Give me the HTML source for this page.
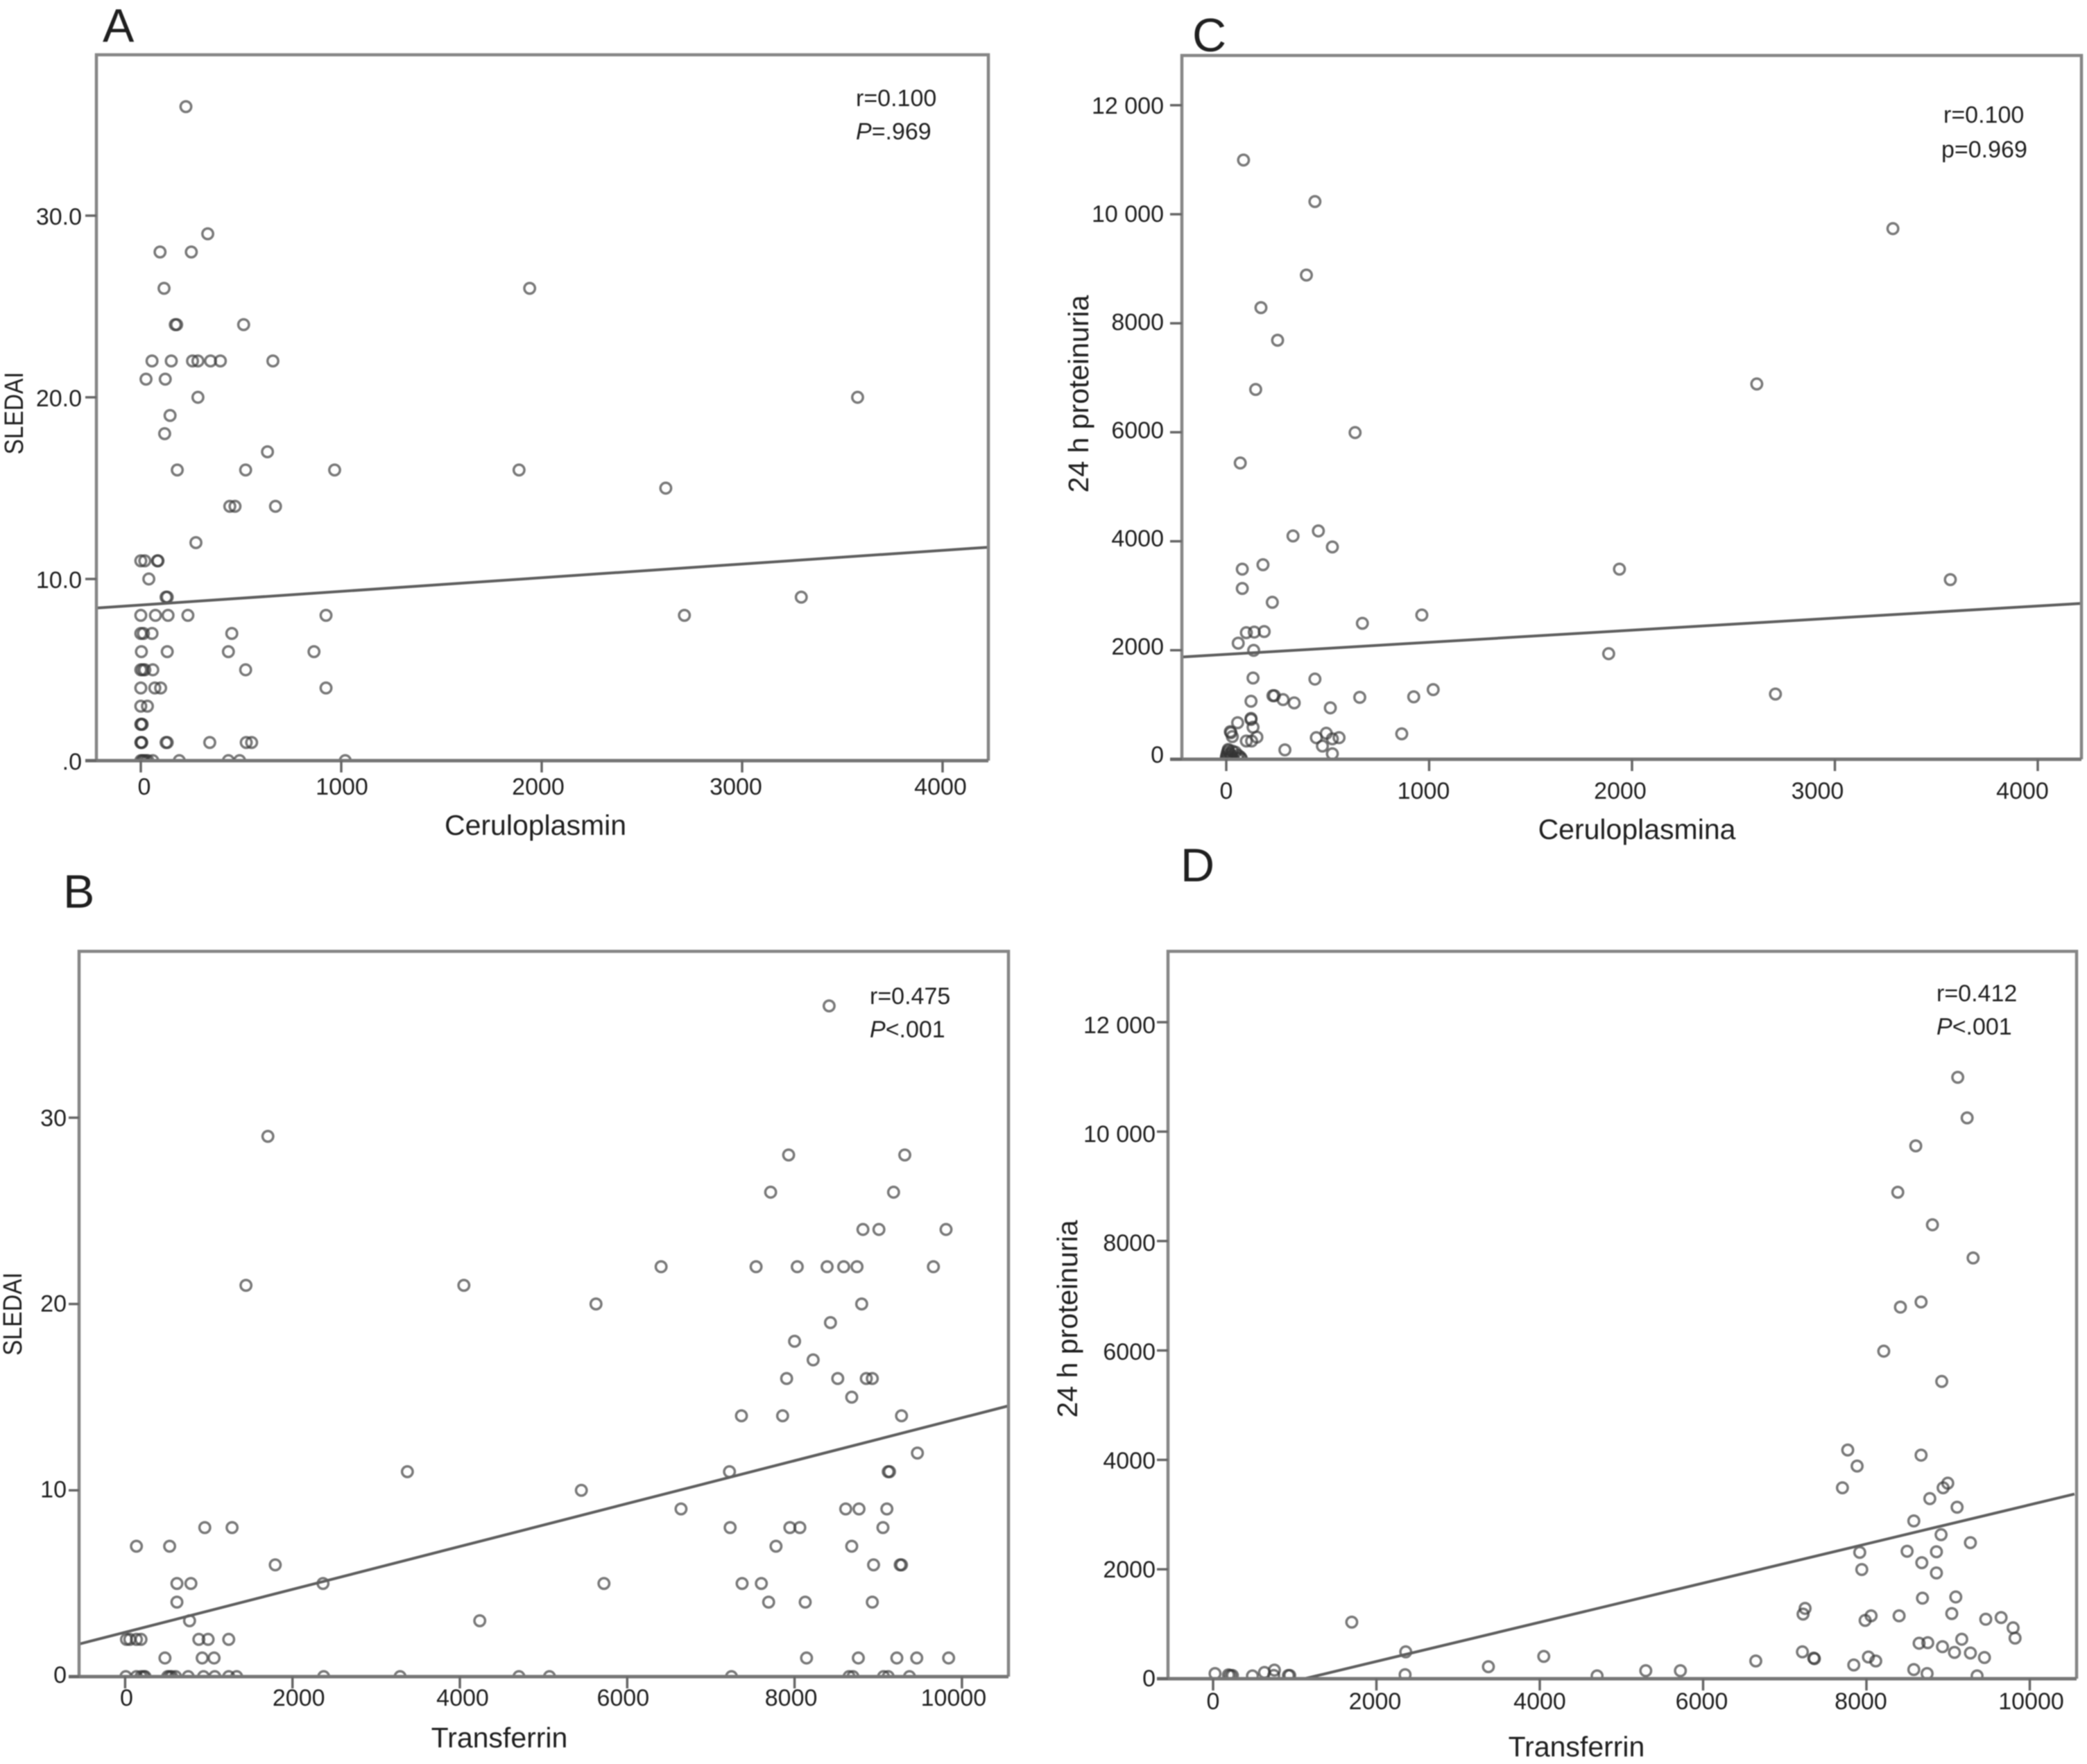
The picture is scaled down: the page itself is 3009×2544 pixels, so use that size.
<!DOCTYPE html>
<html lang="en">
<head>
<meta charset="utf-8">
<title>Scatter plots: SLEDAI and 24 h proteinuria vs ceruloplasmin and transferrin</title>
<style>
html,body{margin:0;padding:0;background:#fff;width:3009px;height:2544px;overflow:hidden}
svg{display:block;filter:blur(0.7px)}
text{font-family:"Liberation Sans",sans-serif;fill:#1f1f1f}
.tick{font-size:34px}
.title{font-size:41px}
.sled{font-size:38px}
.note{font-size:34px}
.letter{font-size:68px}
</style>
</head>
<body>
<svg id="figure" width="3009" height="2544" viewBox="0 0 3009 2544" xmlns="http://www.w3.org/2000/svg">
  <rect x="0" y="0" width="3009" height="2544" fill="#fff"/>
  <g id="panel-a"></g>
  <g id="panel-b"></g>
  <g id="panel-c"></g>
  <g id="panel-d"></g>

  <text class="letter" x="148" y="60">A</text>
  <text class="letter" x="91" y="1309">B</text>
  <text class="letter" x="1719" y="74">C</text>
  <text class="letter" x="1702" y="1271">D</text>

  <text class="title" x="772" y="1204" text-anchor="middle">Ceruloplasmin</text>
  <text class="title" x="2360" y="1210" text-anchor="middle">Ceruloplasmina</text>
  <text class="title" x="720" y="2520" text-anchor="middle">Transferrin</text>
  <text class="title" x="2273" y="2533" text-anchor="middle">Transferrin</text>

  <text class="sled" text-anchor="middle" textLength="119" lengthAdjust="spacingAndGlyphs" transform="translate(33 596) rotate(-90)">SLEDAI</text>
  <text class="sled" text-anchor="middle" textLength="120" lengthAdjust="spacingAndGlyphs" transform="translate(31 1895) rotate(-90)">SLEDAI</text>
  <text class="title" text-anchor="middle" transform="translate(1569 568) rotate(-90)">24 h proteinuria</text>
  <text class="title" text-anchor="middle" transform="translate(1553 1902) rotate(-90)">24 h proteinuria</text>

  <text class="note" x="1234" y="153">r=0.100</text>
  <text class="note" x="1234" y="201"><tspan font-style="italic">P</tspan>=.969</text>
  <text class="note" x="2802" y="177">r=0.100</text>
  <text class="note" x="2799" y="227">p=0.969</text>
  <text class="note" x="1254" y="1448">r=0.475</text>
  <text class="note" x="1254" y="1496"><tspan font-style="italic">P</tspan>&lt;.001</text>
  <text class="note" x="2792" y="1444">r=0.412</text>
  <text class="note" x="2792" y="1492"><tspan font-style="italic">P</tspan>&lt;.001</text>
</svg>

<script>
// ---------- Panel A: SLEDAI vs ceruloplasmin ----------
const aXTicks = [0, 1000, 2000, 3000, 4000];
const aYTicks = [0, 10, 20, 30];
const aYTickLabels = [".0", "10.0", "20.0", "30.0"];
const aLineX = [-221, 4232];
const aLineY = [8.4, 11.75];
const aX = [225, 334, 96, 252, 116, 1940, 172, 179, 513, 56, 152, 258, 285, 348, 397, 659, 26, 122, 285, 3576, 146, 119, 632, 182, 523, 967, 1887, 2619, 444, 470, 672, 275, 0, 20, 83, 86, 40, 126, 132, 3295, 0, 73, 136, 235, 924, 2712, 0, 13, 56, 454, 3, 132, 437, 864, 0, 10, 20, 60, 523, 0, 70, 99, 924, 0, 33, 0, 3, 7, 0, 3, 5, 126, 132, 344, 526, 553, 0, 8, 15, 25, 35, 60, 192, 437, 493, 1020];
const aY = [36, 29, 28, 28, 26, 26, 24, 24, 24, 22, 22, 22, 22, 22, 22, 22, 21, 21, 20, 20, 19, 18, 17, 16, 16, 16, 16, 15, 14, 14, 14, 12, 11, 11, 11, 11, 10, 9, 9, 9, 8, 8, 8, 8, 8, 8, 7, 7, 7, 7, 6, 6, 6, 6, 5, 5, 5, 5, 5, 4, 4, 4, 4, 3, 3, 2, 2, 2, 1, 1, 1, 1, 1, 1, 1, 1, 0, 0, 0, 0, 0, 0, 0, 0, 0, 0];

// ---------- Panel B: SLEDAI vs transferrin ----------
const bXTicks = [0, 2000, 4000, 6000, 8000, 10000];
const bYTicks = [0, 10, 20, 30];
const bYTickLabels = ["0", "10", "20", "30"];
const bLineX = [-548, 10571];
const bLineY = [1.75, 14.55];
const bX = [8413, 1706, 7929, 9317, 7714, 9183, 8817, 9008, 9810, 6405, 7540, 8032, 8389, 8587, 8746, 9659, 1444, 4048, 5627, 8802, 8429, 8000, 8222, 7905, 8516, 8857, 8929, 8683, 7365, 7857, 9278, 9468, 3373, 7222, 9119, 9135, 5452, 6643, 8611, 8770, 9103, 952, 1278, 7230, 7944, 8063, 9056, 135, 532, 7778, 8683, 1794, 8944, 9262, 9278, 619, 786, 2365, 5722, 7373, 7603, 619, 7690, 8127, 8929, 770, 4238, 16, 56, 135, 190, 881, 992, 1238, 476, 921, 1063, 8143, 8762, 9222, 9460, 9841, 8, 135, 190, 222, 238, 508, 532, 556, 603, 754, 937, 1071, 1238, 1333, 2373, 3286, 4706, 5071, 7246, 8651, 8698, 9063, 9119, 9373];
const bY = [36, 29, 28, 28, 26, 26, 24, 24, 24, 22, 22, 22, 22, 22, 22, 22, 21, 21, 20, 20, 19, 18, 17, 16, 16, 16, 16, 15, 14, 14, 14, 12, 11, 11, 11, 11, 10, 9, 9, 9, 9, 8, 8, 8, 8, 8, 8, 7, 7, 7, 7, 6, 6, 6, 6, 5, 5, 5, 5, 5, 5, 4, 4, 4, 4, 3, 3, 2, 2, 2, 2, 2, 2, 2, 1, 1, 1, 1, 1, 1, 1, 1, 0, 0, 0, 0, 0, 0, 0, 0, 0, 0, 0, 0, 0, 0, 0, 0, 0, 0, 0, 0, 0, 0, 0, 0];

// ---------- Panel C: 24 h proteinuria vs ceruloplasmin ----------
const cXTicks = [0, 1000, 2000, 3000, 4000];
const cYTicks = [0, 2000, 4000, 6000, 8000, 10000, 12000];
const cYTickLabels = ["0", "2000", "4000", "6000", "8000", "10 000", "12 000"];
const cLineX = [-219, 4215];
const cLineY = [1876, 2860];
const cX = [85, 437, 3286, 395, 171, 253, 145, 2615, 635, 69, 454, 329, 523, 181, 79, 1938, 3569, 79, 227, 964, 671, 99, 138, 187, 59, 135, 1885, 132, 437, 2707, 1020, 230, 237, 280, 335, 122, 658, 924, 513, 122, 122, 56, 132, 20, 23, 30, 865, 493, 444, 523, 556, 151, 99, 125, 474, 289, 523, 0, 0, 3, 5, 10, 10, 15, 20, 25, 30, 35, 45, 55, 60, 70, 75];
const cY = [10995, 10233, 9736, 8884, 8286, 7688, 6785, 6886, 5994, 5436, 4189, 4097, 3895, 3570, 3489, 3489, 3296, 3134, 2880, 2647, 2495, 2323, 2333, 2343, 2130, 1998, 1937, 1491, 1471, 1197, 1278, 1166, 1166, 1095, 1034, 1065, 1136, 1146, 943, 750, 730, 670, 588, 507, 487, 416, 467, 477, 396, 375, 396, 406, 335, 335, 243, 172, 101, 0, 40, 80, 120, 160, 180, 30, 100, 60, 150, 0, 130, 20, 70, 40, 10];

// ---------- Panel D: 24 h proteinuria vs transferrin ----------
const dXTicks = [0, 2000, 4000, 6000, 8000, 10000];
const dYTicks = [0, 2000, 4000, 6000, 8000, 10000, 12000];
const dYTickLabels = ["0", "2000", "4000", "6000", "8000", "10 000", "12 000"];
const dLineX = [1118, 10547];
const dLineY = [0, 3375];
const dX = [9118, 9233, 8604, 8384, 8808, 9306, 8669, 8416, 8212, 8922, 7771, 8669, 7886, 7706, 8996, 8939, 8776, 9110, 8580, 8914, 9273, 7918, 8498, 8857, 8678, 7943, 8857, 8686, 9094, 7249, 7224, 9045, 8400, 8057, 7984, 9461, 9649, 9796, 9820, 9167, 8645, 8751, 8931, 9078, 9273, 9445, 7216, 7355, 7363, 8024, 8114, 7845, 8580, 8743, 9355, 6645, 5722, 5298, 4702, 4049, 3371, 2359, 2351, 1698, 24, 188, 212, 237, 482, 629, 751, 743, 922, 939];
const dY = [10993, 10251, 9739, 8892, 8297, 7691, 6886, 6792, 5987, 5434, 4180, 4086, 3887, 3490, 3574, 3490, 3292, 3135, 2884, 2633, 2487, 2309, 2330, 2320, 2121, 1996, 1933, 1473, 1494, 1285, 1181, 1191, 1149, 1149, 1066, 1087, 1118, 930, 742, 721, 648, 658, 585, 481, 470, 387, 491, 376, 366, 397, 324, 251, 167, 94, 52, 324, 146, 146, 52, 408, 219, 491, 73, 1034, 94, 70, 60, 60, 52, 115, 157, 60, 60, 60];

// ---------- Layout (pixels), separate from the data ----------
const layoutA = {name:'a', left:139, right:1425, top:79, bottom:1097, x0:203, kx:0.289, ky:26.2, tickLeft:123, xBase:1146, yRight:118, dy0:13, dyTop:13, xNudge:[5,1,-5,-9,-3]};
const layoutB = {name:'b', left:114, right:1454, top:1372, bottom:2418, x0:180.4, kx:0.12065, ky:26.87, tickLeft:99, xBase:2460, yRight:96, dy0:9, dyTop:12, xNudge:[2,9,4,-6,-5,-12]};
const layoutC = {name:'c', left:1704, right:3001, top:80, bottom:1095, x0:1768, kx:0.2925, ky:0.0786, tickLeft:1687, xBase:1152, yRight:1678, dy0:5, dyTop:12, xNudge:[0,-8,-17,-25,-22]};
const layoutD = {name:'d', left:1684, right:2994, top:1372, bottom:2421, x0:1749, kx:0.11775, ky:0.0789, tickLeft:1668, xBase:2465, yRight:1666, dy0:11, dyTop:16, xNudge:[0,-2,0,-2,-8,2]};

const NS = 'http://www.w3.org/2000/svg';
function make(tag, attrs) {
  const el = document.createElementNS(NS, tag);
  for (const k in attrs) el.setAttribute(k, attrs[k]);
  return el;
}

function drawPanel(L, xs, ys, lineX, lineY, xTicks, yTicks, yLabels) {
  const root = document.getElementById('panel-' + L.name);
  const sx = v => L.x0 + v * L.kx;
  const sy = v => L.bottom - v * L.ky;
  const maxY = yTicks[yTicks.length - 1];

  const clip = make('clipPath', {id: 'clip-' + L.name});
  clip.appendChild(make('rect', {x: L.left, y: L.top, width: L.right - L.left, height: L.bottom - L.top}));
  root.appendChild(clip);

  const marks = make('g', {'clip-path': 'url(#clip-' + L.name + ')'});
  
  
  root.appendChild(marks);

  xs.forEach((x, i) => {
    const ring = make('circle', {cx: sx(x), cy: sy(ys[i]), r: 7.7, fill: 'none', stroke: '#333', 'stroke-width': 3.5, 'stroke-opacity': 0.66});
    
    
    marks.appendChild(ring);
  });

  const fit = make('line', {x1: sx(lineX[0]), y1: sy(lineY[0]), x2: sx(lineX[1]), y2: sy(lineY[1]), stroke: '#5e5e5e', 'stroke-width': 4, 'clip-path': 'url(#clip-' + L.name + ')'});
  
  
  root.appendChild(fit);

  const frame = make('path', {d: 'M' + L.left + ' ' + L.bottom + 'V' + L.top + 'H' + L.right + 'V' + L.bottom, fill: 'none', stroke: '#868686', 'stroke-width': 4.5});
  
  
  root.appendChild(frame);

  const xAxis = make('line', {x1: L.tickLeft, y1: L.bottom, x2: L.right, y2: L.bottom, stroke: '#777', 'stroke-width': 5});
  
  
  root.appendChild(xAxis);

  xTicks.forEach((t, i) => {
    const mark = make('line', {x1: sx(t), y1: L.bottom, x2: sx(t), y2: L.bottom + 17, stroke: '#666', 'stroke-width': 3.5});
    
    
    root.appendChild(mark);
    const label = make('text', {x: sx(t) + L.xNudge[i], y: L.xBase, 'text-anchor': 'middle', 'class': 'tick'});
    
    
    label.textContent = String(t);
    root.appendChild(label);
  });

  yTicks.forEach((t, i) => {
    const mark = make('line', {x1: L.tickLeft, y1: sy(t), x2: L.left, y2: sy(t), stroke: '#666', 'stroke-width': 3.5});
    
    
    root.appendChild(mark);
    const dy = L.dy0 + (L.dyTop - L.dy0) * (t / maxY);
    const label = make('text', {x: L.yRight, y: sy(t) + dy, 'text-anchor': 'end', 'class': 'tick'});
    
    
    label.textContent = yLabels[i];
    root.appendChild(label);
  });
}

drawPanel(layoutA, aX, aY, aLineX, aLineY, aXTicks, aYTicks, aYTickLabels);
drawPanel(layoutB, bX, bY, bLineX, bLineY, bXTicks, bYTicks, bYTickLabels);
drawPanel(layoutC, cX, cY, cLineX, cLineY, cXTicks, cYTicks, cYTickLabels);
drawPanel(layoutD, dX, dY, dLineX, dLineY, dXTicks, dYTicks, dYTickLabels);
</script>
</body>
</html>
